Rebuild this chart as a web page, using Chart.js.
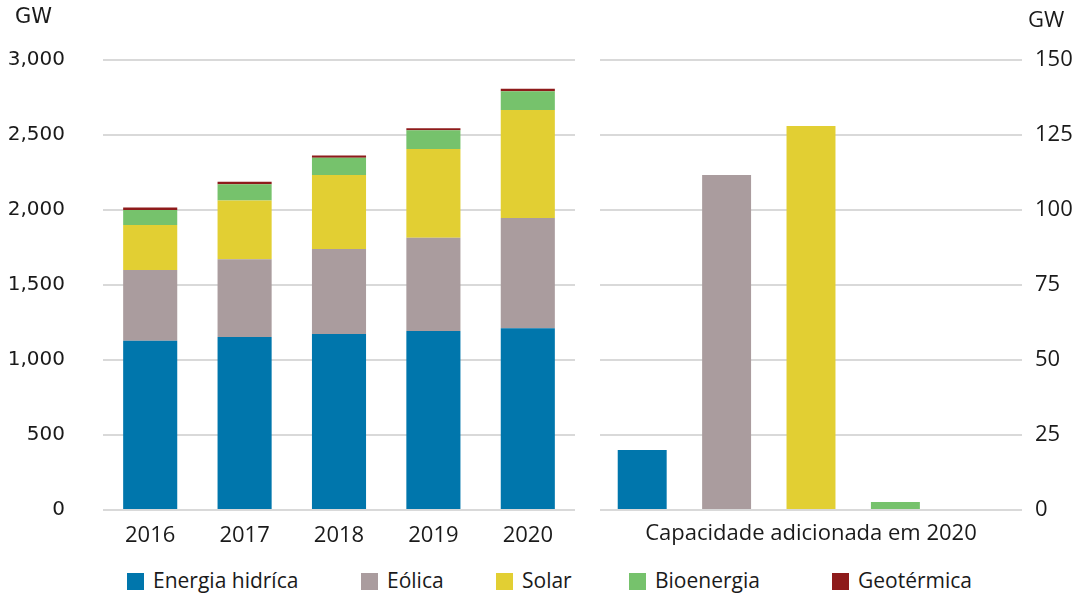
<!DOCTYPE html>
<html>
<head>
<meta charset="utf-8">
<script src="https://cdn.jsdelivr.net/npm/chart.js@4"></script>
<style>
  html, body { margin: 0; padding: 0; background: #fff; }
  body { width: 1077px; height: 596px; position: relative; overflow: hidden; font-family: "Open Sans", sans-serif; color: #1a1a1a; }
  .panel { position: absolute; top: 0; height: 560px; }
  #left { left: 0; width: 590px; }
  #right { left: 590px; width: 487px; }
  .unit { position: absolute; top: 4px; }
  #unitLeft { left: 15px; font-size: 21px; font-family: "DejaVu Sans", sans-serif; }
  #unitRight { left: 1028px; font-size: 22px; top: 3px; }
  .leg { position: absolute; top: 566px; font-size: 21px; line-height: 28px; white-space: nowrap; }
  .leg span.sw { display: inline-block; width: 17px; height: 17px; vertical-align: -2px; margin-right: 9px; }
</style>
</head>
<body>
<div class="panel" id="left"><canvas id="cLeft"></canvas></div>
<div class="panel" id="right"><canvas id="cRight"></canvas></div>
<div class="unit" id="unitLeft">GW</div>
<div class="unit" id="unitRight">GW</div>
<div id="legend"></div>
<script>
// capacidade instalada acumulada (GW)
const anos = ["2016", "2017", "2018", "2019", "2020"];
const hidrica = [1129, 1153, 1173, 1193, 1211];
const eolica = [471, 518, 567, 622, 735];
const solar = [300, 393, 493, 591, 720];
const bioenergia = [100, 107, 115, 125, 125];
const geotermica = [16, 17, 16, 14, 17];

// capacidade adicionada em 2020 (GW)
const fontes = ["Energia hidríca", "Eólica", "Solar", "Bioenergia", "Geotérmica"];
const adicionada2020 = [20, 111.7, 128, 2.7, 0];

const cores = ["#0076ac", "#aa9c9e", "#e2cf33", "#76c26c", "#8e1b1b"];
const legendLeft = [127, 361, 496, 629, 832];

Chart.defaults.font.family = "'Open Sans', sans-serif";
Chart.defaults.color = "#1a1a1a";

const gridColor = "#d9d9d9";

new Chart(document.getElementById("cLeft"), {
  type: "bar",
  data: {
    labels: anos,
    datasets: [hidrica, eolica, solar, bioenergia, geotermica].map((d, i) => ({
      label: fontes[i],
      data: d,
      backgroundColor: cores[i],
      categoryPercentage: 1,
      barPercentage: 0.573,
    })),
  },
  options: {
    responsive: true,
    maintainAspectRatio: false,
    animation: false,
    layout: { padding: { top: 60, right: 15, left: 0, bottom: 0 } },
    plugins: { legend: { display: false }, tooltip: { enabled: false } },
    scales: {
      x: {
        stacked: true,
        grid: { display: false, drawTicks: false },
        border: { display: false },
        ticks: { padding: 13, font: { size: 22 } },
        afterFit: (s) => { s.height = 50; },
      },
      y: {
        stacked: true,
        min: 0,
        max: 3000,
        grid: { color: gridColor, lineWidth: 2, drawTicks: false },
        border: { display: false },
        ticks: { stepSize: 500, padding: 38, font: { size: 20, family: "'DejaVu Sans', sans-serif" } },
        afterFit: (s) => { s.width = 103; },
      },
    },
  },
});

new Chart(document.getElementById("cRight"), {
  type: "bar",
  data: {
    labels: fontes,
    datasets: [{
      label: "Capacidade adicionada em 2020",
      data: adicionada2020,
      backgroundColor: cores,
      categoryPercentage: 1,
      barPercentage: 0.58,
    }],
  },
  options: {
    responsive: true,
    maintainAspectRatio: false,
    animation: false,
    layout: { padding: { top: 60, right: 0, left: 10, bottom: 0 } },
    plugins: { legend: { display: false }, tooltip: { enabled: false } },
    scales: {
      x: {
        grid: { display: false, drawTicks: false },
        border: { display: false },
        ticks: { display: false },
        title: { display: true, text: "Capacidade adicionada em 2020", font: { size: 22 }, padding: { top: 10, bottom: 13 } },
        afterFit: (s) => { s.height = 50; },
      },
      y: {
        position: "right",
        min: 0,
        max: 150,
        grid: { color: gridColor, lineWidth: 2, drawTicks: false },
        border: { display: false },
        ticks: { stepSize: 25, padding: 13, font: { size: 22 } },
        afterFit: (s) => { s.width = 55; },
      },
    },
  },
});

const legend = document.getElementById("legend");
legend.innerHTML = fontes
  .map((f, i) => `<div class="leg" style="left:${legendLeft[i]}px"><span class="sw" style="background:${cores[i]}"></span>${f}</div>`)
  .join("");
</script>
</body>
</html>
